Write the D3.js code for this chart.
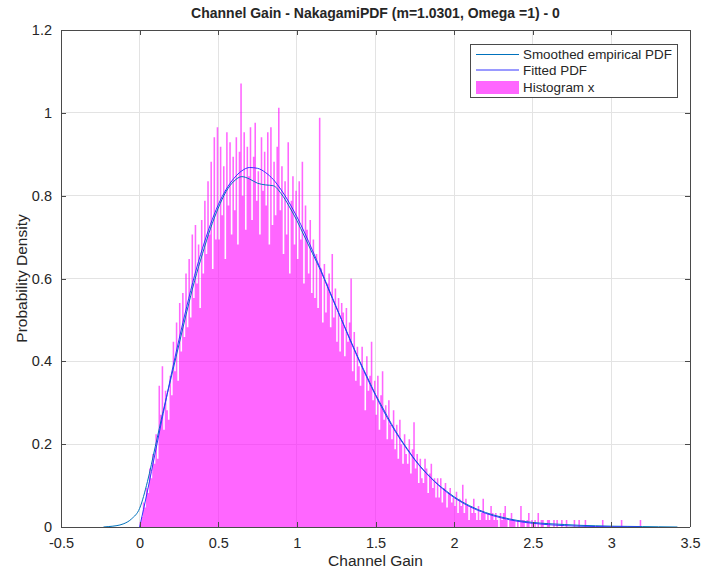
<!DOCTYPE html>
<html><head><meta charset="utf-8">
<script src="https://cdn.jsdelivr.net/npm/d3@7"></script>
<style>
body{margin:0;background:#fff}
text{font-family:"Liberation Sans",Arial,Helvetica,sans-serif;fill:#262626}
</style>
</head><body>
<svg id="chart" width="702" height="568"></svg>
<script>
// ---- data ----
const titleText = "Channel Gain - NakagamiPDF (m=1.0301, Omega =1) - 0";
const xLabelText = "Channel Gain";
const yLabelText = "Probability Density";
const xTicks = [-0.5, 0, 0.5, 1, 1.5, 2, 2.5, 3, 3.5];
const xTickLabels = ["-0.5", "0", "0.5", "1", "1.5", "2", "2.5", "3", "3.5"];
const yTicks = [0, 0.2, 0.4, 0.6, 0.8, 1, 1.2];
const yTickLabels = ["0", "0.2", "0.4", "0.6", "0.8", "1", "1.2"];
const legendLabels = ["Smoothed empirical PDF", "Fitted PDF", "Histogram x"];

// histogram: bins of width 0.01 starting at 0
const binStart = 0;
const binWidth = 0.01;
const histValues = [
  0.012,0.024,0.059,0.047,0.094,0.082,0.141,0.118,0.176,0.153,
  0.224,0.165,0.341,0.271,0.388,0.235,0.329,0.282,0.259,0.365,
  0.318,0.447,0.376,0.494,0.353,0.541,0.424,0.565,0.459,0.612,
  0.482,0.647,0.506,0.706,0.553,0.729,0.588,0.682,0.529,0.741,
  0.612,0.788,0.659,0.835,0.706,0.882,0.623,0.941,0.694,0.965,
  0.694,0.918,0.753,0.871,0.647,0.953,0.776,0.929,0.706,0.894,
  0.765,0.941,0.682,0.906,1.071,0.800,0.953,0.718,0.918,0.847,
  0.965,0.741,0.894,0.976,0.788,0.859,0.706,0.941,0.812,0.906,
  0.776,0.953,0.682,0.965,0.729,0.882,0.753,0.918,1.012,0.765,
  0.871,0.659,0.835,0.706,0.929,0.612,0.788,0.847,0.682,0.812,
  0.647,0.835,0.694,0.882,0.588,0.776,0.718,0.612,0.741,0.565,
  0.694,0.553,0.659,0.529,0.988,0.624,0.494,0.635,0.518,0.588,
  0.612,0.482,0.659,0.506,0.576,0.447,0.553,0.424,0.541,0.518,
  0.412,0.529,0.447,0.494,0.600,0.376,0.471,0.353,0.435,0.388,
  0.341,0.435,0.376,0.282,0.412,0.329,0.365,0.447,0.306,0.353,
  0.271,0.365,0.235,0.318,0.376,0.259,0.294,0.212,0.306,0.247,
  0.212,0.282,0.188,0.247,0.165,0.259,0.200,0.153,0.224,0.176,
  0.153,0.212,0.129,0.188,0.253,0.141,0.176,0.106,0.165,0.118,
  0.106,0.165,0.141,0.082,0.129,0.153,0.094,0.118,0.071,0.118,
  0.071,0.118,0.059,0.094,0.106,0.047,0.082,0.094,0.059,0.071,
  0.051,0.085,0.034,0.068,0.051,0.102,0.034,0.068,0.051,0.017,
  0.051,0.034,0.068,0.034,0.017,0.051,0.017,0.034,0.068,0.034,
  0.017,0.034,0.017,0.051,0.034,0.017,0.034,0.017,0.000,0.034,
  0.017,0.034,0.051,0.017,0.000,0.017,0.034,0.017,0.017,0.000,
  0.017,0.000,0.051,0.017,0.017,0.000,0.017,0.034,0.000,0.017,
  0.000,0.017,0.000,0.034,0.000,0.017,0.017,0.000,0.000,0.017,
  0.017,0.000,0.000,0.017,0.000,0.017,0.000,0.000,0.017,0.000,
  0.000,0.017,0.000,0.000,0.000,0.000,0.017,0.000,0.000,0.017,
  0.000,0.000,0.000,0.017,0.000,0.000,0.000,0.000,0.000,0.000,
  0.000,0.000,0.000,0.000,0.017,0.000,0.000,0.000,0.000,0.000,
  0.000,0.000,0.000,0.000,0.000,0.000,0.017,0.000,0.000,0.000,
  0.000,0.000,0.000,0.000,0.000,0.000,0.000,0.000,0.017
];

// fitted Nakagami PDF
const fitX = [0,0.05,0.1,0.15,0.2,0.25,0.3,0.35,0.4,0.45,0.5,0.55,0.6,0.65,0.7,0.75,0.8,0.85,0.9,0.95,
  1,1.05,1.1,1.15,1.2,1.25,1.3,1.35,1.4,1.45,1.5,1.55,1.6,1.65,1.7,1.75,1.8,1.85,1.9,1.95,2,
  2.1,2.2,2.3,2.4,2.5,2.6,2.7,2.8,2.9,3,3.1,3.18];
const fitY = [0,0.087,0.181,0.274,0.366,0.452,0.533,0.608,0.673,0.730,0.778,0.815,0.842,0.860,0.868,0.866,0.856,0.839,0.814,0.784,
  0.749,0.710,0.667,0.623,0.577,0.532,0.486,0.441,0.398,0.357,0.318,0.281,0.247,0.216,0.188,0.162,0.139,0.119,0.101,0.085,0.071,
  0.049,0.033,0.022,0.014,0.0089,0.0055,0.0033,0.0019,0.0011,0.0006,0.00035,0.0002];

// smoothed empirical PDF (kernel density)
const smoothX = [-0.23,-0.2,-0.15,-0.1,-0.05,
  0,0.05,0.1,0.15,0.2,0.25,0.3,0.35,0.4,0.45,0.5,0.55,0.6,0.65,0.7,0.75,0.8,0.85,0.9,0.95,
  1,1.05,1.1,1.15,1.2,1.25,1.3,1.35,1.4,1.45,1.5,1.55,1.6,1.65,1.7,1.75,1.8,1.85,1.9,1.95,2,
  2.1,2.2,2.3,2.4,2.5,2.6,2.7,2.8,2.9,3,3.1,3.2,3.3,3.42];
const smoothY = [0,0.001,0.003,0.008,0.02,
  0.045,0.11,0.195,0.28,0.36,0.44,0.52,0.595,0.66,0.72,0.77,0.81,0.835,0.846,0.84,0.83,0.826,0.824,0.805,0.775,
  0.74,0.70,0.66,0.62,0.575,0.53,0.487,0.443,0.40,0.36,0.32,0.285,0.25,0.218,0.19,0.163,0.14,0.12,0.102,0.087,0.073,
  0.051,0.035,0.024,0.016,0.011,0.008,0.006,0.004,0.003,0.002,0.0015,0.001,0.0005,0];

// ---- layout ----
const W = 702, H = 568;
const plot = {left: 61, right: 690, top: 30, bottom: 527};
const colors = {hist: "#ff00ff", smooth: "#0072bd", fit: "#3434ff", grid: "#e3e3e3", axis: "#4a4a4a"};

const svg = d3.select("#chart");
const x = d3.scaleLinear().domain([-0.5, 3.5]).range([plot.left, plot.right]);
const y = d3.scaleLinear().domain([0, 1.2]).range([plot.bottom, plot.top]);

svg.append("rect").attr("width", W).attr("height", H).attr("fill", "#fff");

// grid
const grid = svg.append("g").attr("stroke", colors.grid).attr("stroke-width", 1).attr("shape-rendering", "crispEdges");
xTicks.slice(1, -1).forEach(t => grid.append("line").attr("x1", x(t)).attr("x2", x(t)).attr("y1", plot.top).attr("y2", plot.bottom));
yTicks.slice(1, -1).forEach(t => grid.append("line").attr("y1", y(t)).attr("y2", y(t)).attr("x1", plot.left).attr("x2", plot.right));

// histogram as step area
const bins = histValues.map((v, i) => ({x0: binStart + i * binWidth, v}));
bins.push({x0: binStart + histValues.length * binWidth, v: 0});
const area = d3.area().curve(d3.curveStepAfter)
  .x(d => x(d.x0)).y0(y(0)).y1(d => y(d.v));
svg.append("path").datum(bins).attr("d", area)
  .attr("fill", colors.hist).attr("fill-opacity", 0.6).attr("stroke", "none");

// curves
const line = d3.line().curve(d3.curveMonotoneX).x(d => x(d[0])).y(d => y(d[1]));
svg.append("path").datum(smoothX.map((v, i) => [v, smoothY[i]])).attr("d", line)
  .attr("fill", "none").attr("stroke", colors.smooth).attr("stroke-width", 1);
svg.append("path").datum(fitX.map((v, i) => [v, fitY[i]])).attr("d", line)
  .attr("fill", "none").attr("stroke", colors.fit).attr("stroke-width", 1);

// axes (box with inward ticks)
const xAxisB = d3.axisBottom(x).tickValues(xTicks).tickSize(-5).tickPadding(11).tickFormat((d, i) => xTickLabels[i]);
const xAxisT = d3.axisTop(x).tickValues(xTicks).tickSize(-5).tickFormat("");
const yAxisL = d3.axisLeft(y).tickValues(yTicks).tickSize(-5).tickPadding(9).tickFormat((d, i) => yTickLabels[i]);
const yAxisR = d3.axisRight(y).tickValues(yTicks).tickSize(-5).tickFormat("");

function styleAxis(g) {
  g.select(".domain").attr("stroke", colors.axis).attr("stroke-width", 1);
  g.selectAll(".tick line").attr("stroke", colors.axis).attr("stroke-width", 1);
  g.selectAll(".tick text").attr("fill", "#262626").style("font-size", "14.5px")
    .style("font-family", '"Liberation Sans",Arial,Helvetica,sans-serif');
  g.attr("shape-rendering", "crispEdges");
}
svg.append("g").attr("transform", `translate(0,${plot.bottom})`).call(xAxisB).call(g => { styleAxis(g); g.select(".domain").attr("d", `M${plot.left},0H${plot.right}`); });
svg.append("g").attr("transform", `translate(0,${plot.top})`).call(xAxisT).call(g => { styleAxis(g); g.select(".domain").attr("d", `M${plot.left},0H${plot.right}`); });
svg.append("g").attr("transform", `translate(${plot.left},0)`).call(yAxisL).call(g => { styleAxis(g); g.select(".domain").attr("d", `M0,${plot.bottom}V${plot.top}`); });
svg.append("g").attr("transform", `translate(${plot.right},0)`).call(yAxisR).call(g => { styleAxis(g); g.select(".domain").attr("d", `M0,${plot.bottom}V${plot.top}`); });

// title & labels
svg.append("text").attr("x", (plot.left + plot.right) / 2).attr("y", 18).attr("text-anchor", "middle")
  .style("font-size", "14px").style("font-weight", "bold").text(titleText);
svg.append("text").attr("x", (plot.left + plot.right) / 2).attr("y", 566).attr("text-anchor", "middle")
  .style("font-size", "15.5px").text(xLabelText);
svg.append("text").attr("transform", `translate(27,${(plot.top + plot.bottom) / 2}) rotate(-90)`).attr("text-anchor", "middle")
  .style("font-size", "15.5px").text(yLabelText);

// legend
const lg = svg.append("g");
lg.append("rect").attr("x", 470.5).attr("y", 44.5).attr("width", 207).attr("height", 53)
  .attr("fill", "#fff").attr("stroke", colors.axis).attr("stroke-width", 1);
const rowsY = [54.5, 70, 87.5];
lg.append("line").attr("x1", 476).attr("x2", 519).attr("y1", rowsY[0]).attr("y2", rowsY[0]).attr("stroke", colors.smooth);
lg.append("line").attr("x1", 476).attr("x2", 519).attr("y1", rowsY[1]).attr("y2", rowsY[1]).attr("stroke", colors.fit);
lg.append("rect").attr("x", 476).attr("y", rowsY[2] - 6.5).attr("width", 43).attr("height", 13)
  .attr("fill", colors.hist).attr("fill-opacity", 0.6);
legendLabels.forEach((t, i) => lg.append("text").attr("x", 523).attr("y", rowsY[i]).attr("dy", "0.35em")
  .style("font-size", "13.4px").text(t));
</script>
</body></html>
